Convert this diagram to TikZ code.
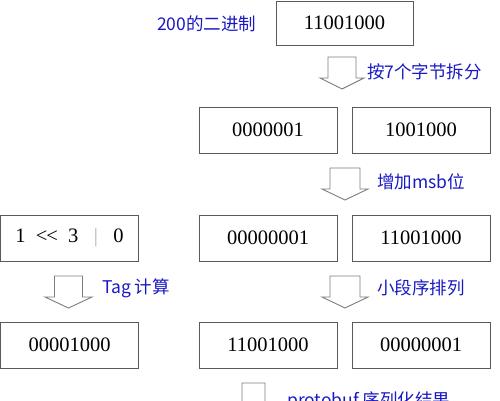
\documentclass[tikz,border=0pt]{standalone}
\usepackage{fontspec}
\setmainfont{Liberation Serif}
\newfontfamily\cjkfont{Noto Sans CJK SC}
\usetikzlibrary{positioning}
\definecolor{labelblue}{RGB}{25,25,195}
\definecolor{boxgray}{RGB}{90,90,90}
\definecolor{arrowgray}{RGB}{125,125,125}

\tikzset{
    bitbox/.style={draw=boxgray, line width=0.9pt, minimum width=138pt, minimum height=46pt,
        inner sep=0pt, font=\fontsize{20.5}{24}\selectfont},
    steplabel/.style={anchor=west, text=labelblue, inner sep=0pt,
        font=\cjkfont\fontsize{17.5}{20}\selectfont},
    hollowarrow/.style={draw=arrowgray, line width=0.9pt, fill=white}
}

\begin{document}
\begin{tikzpicture}[x=1pt,y=-1pt]
\useasboundingbox (0,0) rectangle (500,401);
\clip (0,0) rectangle (500,401);

% binary value of 200
\node[bitbox, minimum width=137pt, minimum height=44pt] (bin) at (344.5,23) {11001000};
\node[steplabel] (binlabel) at (157,24) {200的二进制};

% split into 7-bit groups
\node[bitbox] (grpA) at (268,130) {0000001};
\node[bitbox] (grpB) at (421,130) {1001000};

% msb added
\node[bitbox] (tagexpr) at (69.5,238) {1\hspace{0.5em}<\kern-0.05em<\hspace{0.5em}3\hspace{0.75em}\textcolor{gray!60}{|}\hspace{0.75em}0};
\node[bitbox] (msbA) at (268,238) {00000001};
\node[bitbox] (msbB) at (421,238) {11001000};

% results
\node[bitbox] (tagval) at (69.5,345) {00001000};
\node[bitbox] (outA) at (268,345) {11001000};
\node[bitbox] (outB) at (421,345) {00000001};

% hollow down arrows: centre / top / stem half width / head half width
\foreach \cx/\ty/\sw/\hw in {342/57/14/22, 345/168/15/23, 68.5/276/14/23.5, 345/276/15/23, 253.5/383/11.5/19}
{
    \draw[hollowarrow] (\cx-\sw,\ty) -- (\cx+\sw,\ty) -- (\cx+\sw,\ty+21) -- (\cx+\hw,\ty+21)
        -- (\cx,\ty+32) -- (\cx-\hw,\ty+21) -- (\cx-\sw,\ty+21) -- cycle;
}

% step labels
\node[steplabel] (splitlabel) at (367,72) {按7个字节拆分};
\node[steplabel] (msblabel) at (377,182) {增加msb位};
\node[steplabel] (taglabel) at (102,288) {Tag 计算};
\node[steplabel] (orderlabel) at (377,288) {小段序排列};
\node[steplabel] (resultlabel) at (287,401) {protobuf 序列化结果};

\end{tikzpicture}
\end{document}
